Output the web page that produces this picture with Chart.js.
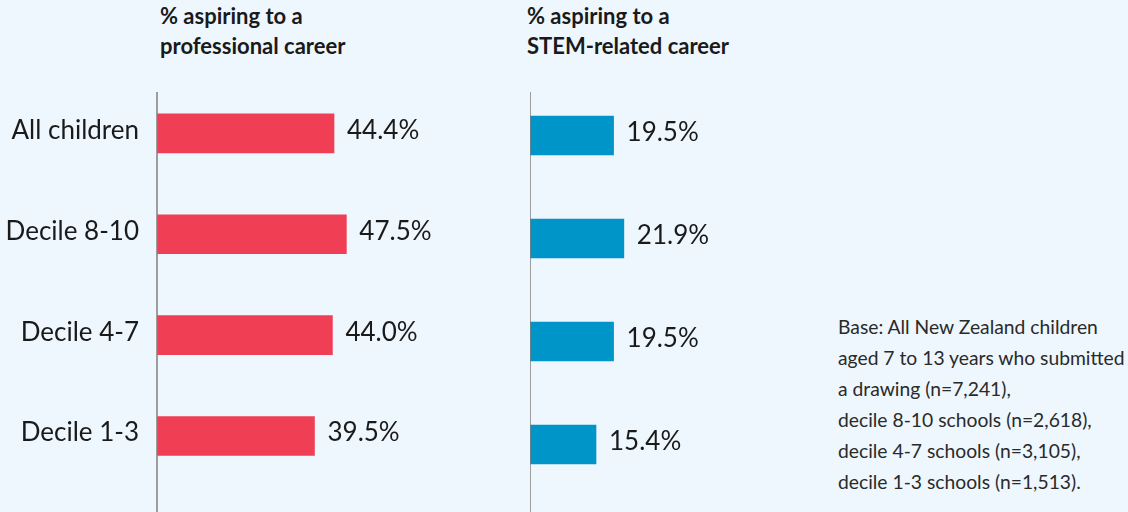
<!DOCTYPE html>
<html>
<head>
<meta charset="utf-8">
<script src="https://cdn.jsdelivr.net/npm/chart.js@4/dist/chart.umd.min.js"></script>
<style>
  html, body { margin: 0; padding: 0; }
  body { width: 1128px; height: 512px; background: #EEF7FE; position: relative; overflow: hidden; font-family: Lato, "Open Sans", sans-serif; }
  .title { position: absolute; top: 1px; font-weight: bold; font-size: 22px; line-height: 30px; color: #1a1a1a; }
  .note { position: absolute; left: 838px; top: 311px; font-size: 19.3px; line-height: 31px; color: #2a2a2a; white-space: nowrap; }
  canvas { position: absolute; top: 0; }
</style>
</head>
<body>
<div class="title" style="left:160px">% aspiring to a<br>professional career</div>
<div class="title" style="left:527px">% aspiring to a<br>STEM-related career</div>
<div class="note">Base: All New Zealand children<br>aged 7 to 13 years who submitted<br>a drawing (n=7,241),<br>decile 8-10 schools (n=2,618),<br>decile 4-7 schools (n=3,105),<br>decile 1-3 schools (n=1,513).</div>
<canvas id="c1" style="left:0px;width:456px;height:512px" width="456" height="512"></canvas>
<canvas id="c2" style="left:530px;width:300px;height:512px" width="300" height="512"></canvas>
<script>
const categories = ['All children', 'Decile 8-10', 'Decile 4-7', 'Decile 1-3'];
const professional = [44.4, 47.5, 44.0, 39.5];
const stem = [19.5, 21.9, 19.5, 15.4];

const valueLabels = {
  id: 'valueLabels',
  afterDatasetsDraw(chart) {
    const ctx = chart.ctx;
    ctx.save();
    ctx.font = '26px Lato, "Open Sans", sans-serif';
    ctx.fillStyle = '#1a1a1a';
    ctx.textAlign = 'left';
    ctx.textBaseline = 'middle';
    chart.data.datasets.forEach((ds, di) => {
      chart.getDatasetMeta(di).data.forEach((bar, i) => {
        ctx.fillText(ds.data[i].toFixed(1) + '%', bar.x + 13, bar.y - 3);
      });
    });
    ctx.restore();
  }
};

const axisLine = {
  id: 'axisLine',
  afterDatasetsDraw(chart) {
    const ctx = chart.ctx;
    ctx.save();
    ctx.strokeStyle = '#7f7f7f';
    ctx.lineWidth = 1.5;
    ctx.beginPath();
    ctx.moveTo(chart.chartArea.left, 92);
    ctx.lineTo(chart.chartArea.left, chart.height);
    ctx.stroke();
    ctx.restore();
  }
};

function makeChart(id, values, color, xmax, showLabels, pad) {
  return new Chart(document.getElementById(id), {
    type: 'bar',
    data: {
      labels: categories,
      datasets: [{ data: values, backgroundColor: color, borderWidth: 0, barThickness: 39 }]
    },
    options: {
      indexAxis: 'y',
      responsive: false,
      animation: false,
      layout: { padding: pad },
      plugins: { legend: { display: false }, tooltip: { enabled: false } },
      scales: {
        x: { min: 0, max: xmax, display: false },
        y: {
          display: showLabels,
          grid: { display: false },
          border: { display: false },
          ticks: {
            padding: 10,
            labelOffset: -3,
            color: '#1a1a1a',
            font: { family: 'Lato, "Open Sans", sans-serif', size: 26 }
          },
          afterFit(scale) { if (showLabels) scale.width = 157; }
        }
      }
    },
    plugins: [valueLabels, axisLine]
  });
}

makeChart('c1', professional, '#F03F55', 75, true, { top: 83, bottom: 24, left: 0, right: 0 });
makeChart('c2', stem, '#0095C8', 70, false, { top: 84, bottom: 16, left: 0, right: 0 });
</script>
</body>
</html>
